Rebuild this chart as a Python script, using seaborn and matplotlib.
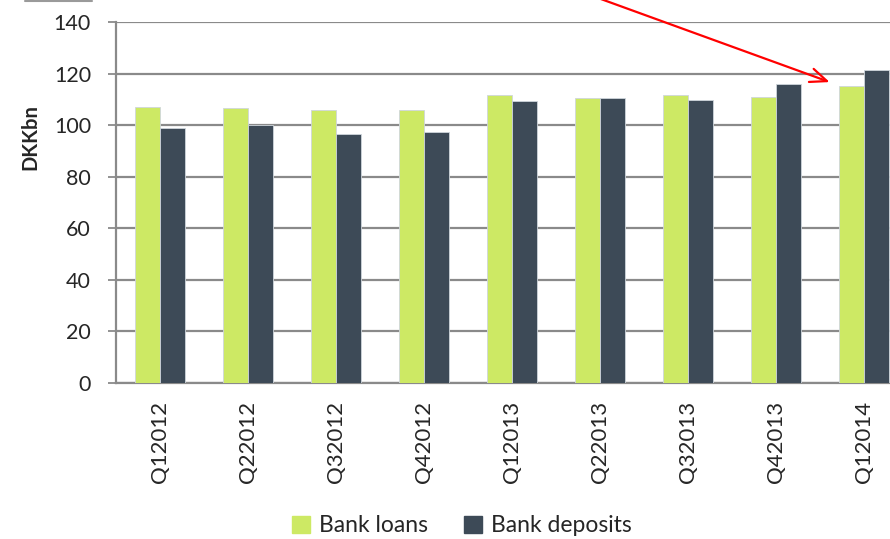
import numpy as np
import pandas as pd
from matplotlib import pyplot as plt
from matplotlib.lines import Line2D
import seaborn as sns

quarters = ['Q12012', 'Q22012', 'Q32012', 'Q42012', 'Q12013',
            'Q22013', 'Q32013', 'Q42013', 'Q12014']
bank_loans = [107.1, 106.8, 105.7, 106.0, 111.7, 110.5, 111.5, 111.1, 115.2]
bank_deposits = [98.7, 100.0, 96.7, 97.5, 109.5, 110.4, 109.9, 115.8, 121.2]
y_ticks = [0, 20, 40, 60, 80, 100, 120, 140]

df = pd.DataFrame({'quarter': quarters * 2,
                   'value': bank_loans + bank_deposits,
                   'series': ['Bank loans'] * len(quarters) + ['Bank deposits'] * len(quarters)})

sns.set_style('white')
plt.rcParams['font.family'] = ['Lato', 'DejaVu Sans']

fig = plt.figure(figsize=(8.9, 5.39), dpi=100)
ax = fig.add_axes([116/890, 1 - 383/539, 792/890, 361/539])

pal = {'Bank loans': '#cde964', 'Bank deposits': '#3d4a57'}
sns.barplot(data=df, x='quarter', y='value', hue='series', palette=pal,
            width=0.57, gap=0, ax=ax, legend=False, saturation=1,
            edgecolor='#cfd6dc', linewidth=0.6, zorder=3)

ax.set_ylim(0, 140)
ax.set_xlim(-0.5, len(quarters) - 0.5)
ax.set_yticks(y_ticks)
ax.set_yticklabels([str(t) for t in y_ticks], fontsize=15.5)
ax.yaxis.grid(True, color='#8a8a8a', linewidth=1.6, zorder=0)
ax.set_axisbelow(True)

# category boundaries as ticks, labels in the middle
ax.set_xticks(np.arange(len(quarters)))
ax.set_xticklabels(quarters, rotation=90, fontsize=16)
ax.set_xticks(np.arange(len(quarters) + 1) - 0.5, minor=True)
ax.tick_params(axis='x', which='major', length=0, pad=13)
ax.tick_params(axis='x', which='minor', length=6, width=1.3, color='#8a8a8a', direction='out')
ax.tick_params(axis='y', length=6, width=1.3, color='#8a8a8a', direction='out', pad=12, left=True)

for s in ['top', 'right']:
    ax.spines[s].set_visible(False)
for s in ['left', 'bottom']:
    ax.spines[s].set_color('#8a8a8a')
    ax.spines[s].set_linewidth(1.6)

ax.set_xlabel('')
ax.set_ylabel('')
fig.text(30/890, 1 - 137/539, 'DKKbn', rotation=90, fontsize=14.5, fontweight='bold',
         ha='center', va='center')

handles = [plt.Rectangle((0, 0), 1, 1, color=pal['Bank loans']),
           plt.Rectangle((0, 0), 1, 1, color=pal['Bank deposits'])]
fig.legend(handles, ['Bank loans', 'Bank deposits'], loc='center',
           bbox_to_anchor=(462/890, 1 - 526/539), ncol=2, frameon=False,
           fontsize=16.5, handlelength=0.75, handleheight=0.75, handletextpad=0.4,
           columnspacing=1.6)

ax.annotate('', xy=(7.61, 116.7), xytext=(4.89, 150.4),
            arrowprops=dict(arrowstyle='->,head_length=1.2,head_width=0.5',
                            color='red', lw=1.6, shrinkA=0, shrinkB=0),
            annotation_clip=False)

fig.add_artist(Line2D([25/890, 92/890], [1 - 1/539, 1 - 1/539], color='#9a9a9a', lw=1.5))

plt.savefig('out.png', dpi=100)
